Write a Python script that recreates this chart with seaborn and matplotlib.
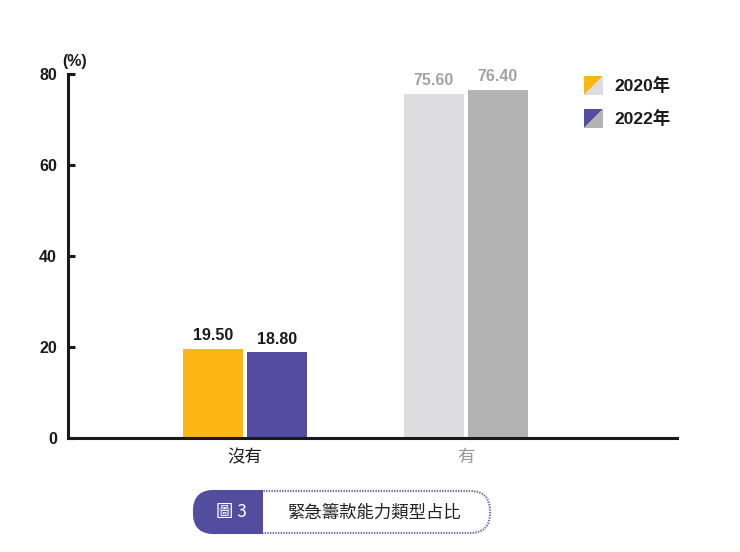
import matplotlib
matplotlib.use("Agg")
import matplotlib.pyplot as plt
from matplotlib.patches import Polygon, FancyBboxPatch, Rectangle
import seaborn as sns
import pandas as pd

categories = ["沒有", "有"]
years = ["2020年", "2022年"]
values_2020 = [19.50, 75.60]
values_2022 = [18.80, 76.40]
yticks = [0, 20, 40, 60, 80]
caption_num = "圖 3"
caption = "緊急籌款能力類型占比"

# bar colours per (category, year)
bar_colors = {
    ("沒有", "2020年"): "#FBB616",
    ("沒有", "2022年"): "#534C9F",
    ("有", "2020年"): "#DDDDDF",
    ("有", "2022年"): "#B3B3B3",
}
label_colors = {"沒有": "#1a1a1a", "有": "#A3A3A3"}

df = pd.DataFrame({
    "cat": categories * 2,
    "year": [years[0]] * 2 + [years[1]] * 2,
    "val": values_2020 + values_2022,
})

sns.set_style("white")
plt.rcParams["font.family"] = ["Liberation Sans", "Noto Sans CJK TC", "DejaVu Sans"]

W, H = 740, 552
fig = plt.figure(figsize=(W / 100, H / 100), dpi=100)
ax = fig.add_axes([68 / W, (H - 438) / H, (677 - 68) / W, (438 - 74) / H])

sns.barplot(data=df, x="cat", y="val", hue="year", order=categories,
            hue_order=years, width=0.58, gap=0.06, palette=["#999", "#666"],
            ax=ax, legend=False, saturation=1)

for j, cont in enumerate(ax.containers):
    for i, bar in enumerate(cont):
        key = (categories[i], years[j])
        bar.set_facecolor(bar_colors[key])
        bar.set_edgecolor("none")
        h = bar.get_height()
        ax.text(bar.get_x() + bar.get_width() / 2, h + 1.3, f"{h:.2f}",
                ha="center", va="bottom", fontsize=11.5, fontweight="bold",
                color=label_colors[categories[i]])

ax.set_xlim(-0.80, 1.955)
ax.set_ylim(0, 80)
ax.set_yticks(yticks)
ax.set_yticklabels([str(t) for t in yticks], fontsize=11.5, fontweight="bold",
                   color="#1a1a1a")
ax.tick_params(axis="y", direction="in", length=5, width=2.2,
               color="#1a1a1a", pad=8, left=True)
ax.tick_params(axis="x", length=0, pad=8)
ax.set_xticks([0, 1])
ax.set_xticklabels(categories, fontsize=12.5)
ax.get_xticklabels()[0].set_color("#1a1a1a")
ax.get_xticklabels()[1].set_color("#999999")
ax.set_xlabel("")
ax.set_ylabel("")
sns.despine(ax=ax)
for s in ["left", "bottom"]:
    ax.spines[s].set_linewidth(2.2)
    ax.spines[s].set_color("#1a1a1a")
ax.text(-0.009, 81.2, "(%)", transform=ax.get_yaxis_transform(), ha="left",
        va="bottom", fontsize=11.5, fontweight="bold", color="#1a1a1a")

# legend with split swatches
def px(x, y):
    return (x / W, (H - y) / H)

leg = [("#FBB616", "#DDDDDF", years[0], 76), ("#534C9F", "#B3B3B3", years[1], 109)]
for c1, c2, txt, top in leg:
    x0, x1, y0, y1 = 584, 603, top, top + 19
    fig.patches.append(Polygon([px(x0, y0), px(x1, y0), px(x0, y1)],
                               closed=True, facecolor=c1, edgecolor="none",
                               transform=fig.transFigure))
    fig.patches.append(Polygon([px(x1, y0), px(x1, y1), px(x0, y1)],
                               closed=True, facecolor=c2, edgecolor="none",
                               transform=fig.transFigure))
    fig.text(*px(614, top + 10), txt, ha="left", va="center", fontsize=12.5,
             fontweight="bold", color="#1a1a1a")

# caption box
cax = fig.add_axes([190 / W, (H - 538) / H, 305 / W, 52 / H])
cax.set_xlim(0, 305)
cax.set_ylim(0, 52)
cax.axis("off")
cax.add_patch(FancyBboxPatch((4, 5), 296, 42,
                             boxstyle="round,pad=0,rounding_size=20",
                             facecolor="white", edgecolor="#6B66AC",
                             lw=1.6, linestyle=(0, (0.6, 0.6))))
cax.add_patch(FancyBboxPatch((3, 4), 70, 44,
                             boxstyle="round,pad=0,rounding_size=21",
                             facecolor="#534C9F", edgecolor="none"))
cax.add_patch(Rectangle((40, 4), 33, 44, facecolor="#534C9F", edgecolor="none"))
cax.text(41, 26, caption_num, ha="center", va="center", fontsize=12.5,
         color="white", family=["Noto Sans CJK TC"])
cax.text(185, 26, caption, ha="center", va="center", fontsize=12.5,
         color="#222222")

fig.savefig("out.png", dpi=100)
